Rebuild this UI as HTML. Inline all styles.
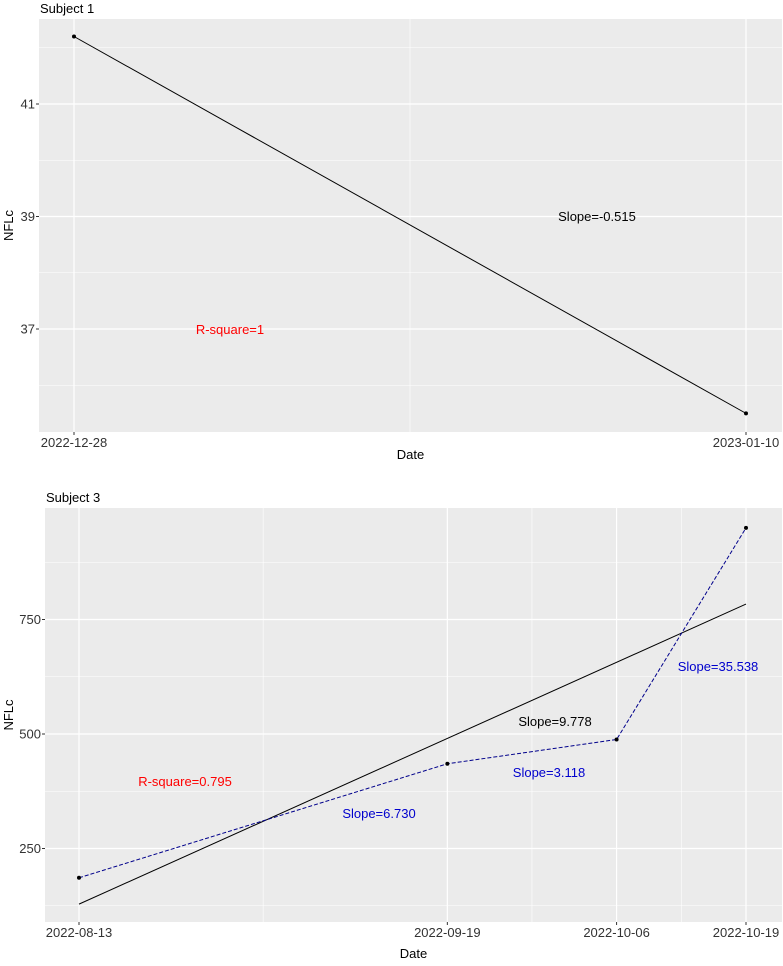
<!DOCTYPE html>
<html><head><meta charset="utf-8"><style>
body{margin:0;background:#fff;}
text{font-family:"Liberation Sans",Arial,sans-serif;}
</style></head><body>
<svg id="svg" width="783" height="961" xmlns="http://www.w3.org/2000/svg"></svg>
<script>
// Subject 1 data
const s1Dates = ["2022-12-28","2023-01-10"];
const s1Values = [42.2, 35.5];
const s1YTicks = [37, 39, 41];
const s1YMinor = [36, 38, 40, 42];
// Subject 3 data
const s3Dates = ["2022-08-13","2022-09-19","2022-10-06","2022-10-19"];
const s3Values = [186, 435, 488, 950];
const s3YTicks = [250, 500, 750];
const s3YMinor = [125, 375, 625, 875];
const s3Slopes = ["6.730","3.118","35.538"];

const NS="http://www.w3.org/2000/svg";
const svg=document.getElementById('svg');
function mk(tag,attrs,parent){const e=document.createElementNS(NS,tag);for(const k in attrs)e.setAttribute(k,attrs[k]);(parent||svg).appendChild(e);return e;}
function day(s){return Date.parse(s)/86400000;}
function txt(x,y,s,opt,parent){const t=mk('text',Object.assign({x:x,y:y,'font-size':13,fill:'#000'},opt||{}),parent);t.textContent=s;return t;}

function panel(cfg){
  const g=mk('g',{});
  
  
  const bg=mk('rect',{x:cfg.x0,y:cfg.y0,width:cfg.x1-cfg.x0,height:cfg.y1-cfg.y0,fill:'#ebebeb'},g);
  
  
  const d0=day(cfg.dates[0]);
  const xs=d=>cfg.px0+(day(d)-d0)*cfg.pxPerDay;
  const xd=n=>cfg.px0+n*cfg.pxPerDay;
  const ys=v=>cfg.yRef+(cfg.vRef-v)*cfg.pxPerUnit;
  cfg.yMinor.forEach(v=>{const l=mk('line',{x1:cfg.x0,x2:cfg.x1,y1:ys(v),y2:ys(v),stroke:'#fff','stroke-width':0.6},g);});
  cfg.xMinor.forEach(n=>{const l=mk('line',{x1:xd(n),x2:xd(n),y1:cfg.y0,y2:cfg.y1,stroke:'#fff','stroke-width':0.6},g);});
  cfg.yTicks.forEach(v=>{const y=ys(v);
    const l=mk('line',{x1:cfg.x0,x2:cfg.x1,y1:y,y2:y,stroke:'#fff','stroke-width':1.2},g);
    mk('line',{x1:cfg.x0-3,x2:cfg.x0,y1:y,y2:y,stroke:'#333'},g);
    const t=txt(cfg.x0-4,y+4.5,String(v),{'text-anchor':'end','fill':'#333'},g);});
  cfg.dates.forEach(d=>{const x=xs(d);
    const l=mk('line',{x1:x,x2:x,y1:cfg.y0,y2:cfg.y1,stroke:'#fff','stroke-width':1.2},g);
    mk('line',{x1:x,x2:x,y1:cfg.y1,y2:cfg.y1+3,stroke:'#333'},g);
    const t=txt(x,cfg.y1+15,d,{'text-anchor':'middle','fill':'#333'},g);});
  // regression
  const n=cfg.values.length,xsD=cfg.dates.map(d=>day(d)-d0);
  const mx=xsD.reduce((a,b)=>a+b)/n,my=cfg.values.reduce((a,b)=>a+b)/n;
  let sxy=0,sxx=0;for(let i=0;i<n;i++){sxy+=(xsD[i]-mx)*(cfg.values[i]-my);sxx+=(xsD[i]-mx)**2;}
  const b=sxy/sxx,a=my-b*mx,last=xsD[n-1];
  const fl=mk('line',{x1:xd(0),y1:ys(a),x2:xd(last),y2:ys(a+b*last),stroke:'#000','stroke-width':1},g);
  
  if(cfg.dashed){
    const pts=cfg.dates.map((d,i)=>xs(d)+','+ys(cfg.values[i])).join(' ');
    const pl=mk('polyline',{points:pts,fill:'none',stroke:'#00008b','stroke-width':1,'stroke-dasharray':'4,2'},g);
    
  }
  cfg.dates.forEach((d,i)=>{const c=mk('circle',{cx:xs(d),cy:ys(cfg.values[i]),r:2,fill:'#000'},g);});
  const tt=txt(cfg.x0+1,cfg.y0-6,cfg.title,{},g);
  const xt=txt((cfg.x0+cfg.x1)/2,cfg.y1+cfg.dateOff,'Date',{'text-anchor':'middle'},g);
  const yy=(cfg.y0+cfg.y1)/2;
  const yt=txt(13,yy,'NFLc',{'text-anchor':'middle',transform:'rotate(-90 13 '+yy+')'},g);
  return {g,b};
}

const p1=panel({name:'subject-1-panel',title:'Subject 1',x0:39,x1:782,y0:19,y1:432,px0:74,pxPerDay:672/13,dates:s1Dates,values:s1Values,yTicks:s1YTicks,yMinor:s1YMinor,xMinor:[6.5],yRef:104,vRef:41,pxPerUnit:56.25,dashed:false,dateOff:27});
let t=txt(597,221,'Slope=-0.515',{'text-anchor':'middle'},p1.g);
t=txt(230,334,'R-square=1',{'text-anchor':'middle',fill:'#ff0000'},p1.g);

const p3=panel({name:'subject-3-panel',title:'Subject 3',x0:45,x1:782,y0:508,y1:922,px0:79,pxPerDay:667/67,dates:s3Dates,values:s3Values,yTicks:s3YTicks,yMinor:s3YMinor,xMinor:[18.5,45.5,60.5],yRef:734,vRef:500,pxPerUnit:0.458,dashed:true,dateOff:36});
t=txt(185,786,'R-square=0.795',{'text-anchor':'middle',fill:'#ff0000'},p3.g);
t=txt(555,726,'Slope=9.778',{'text-anchor':'middle'},p3.g);
[[379,818],[549,777],[718,671]].forEach((p,i)=>{const e=txt(p[0],p[1],'Slope='+s3Slopes[i],{'text-anchor':'middle',fill:'#0000cd'},p3.g);});
</script>
</body></html>
